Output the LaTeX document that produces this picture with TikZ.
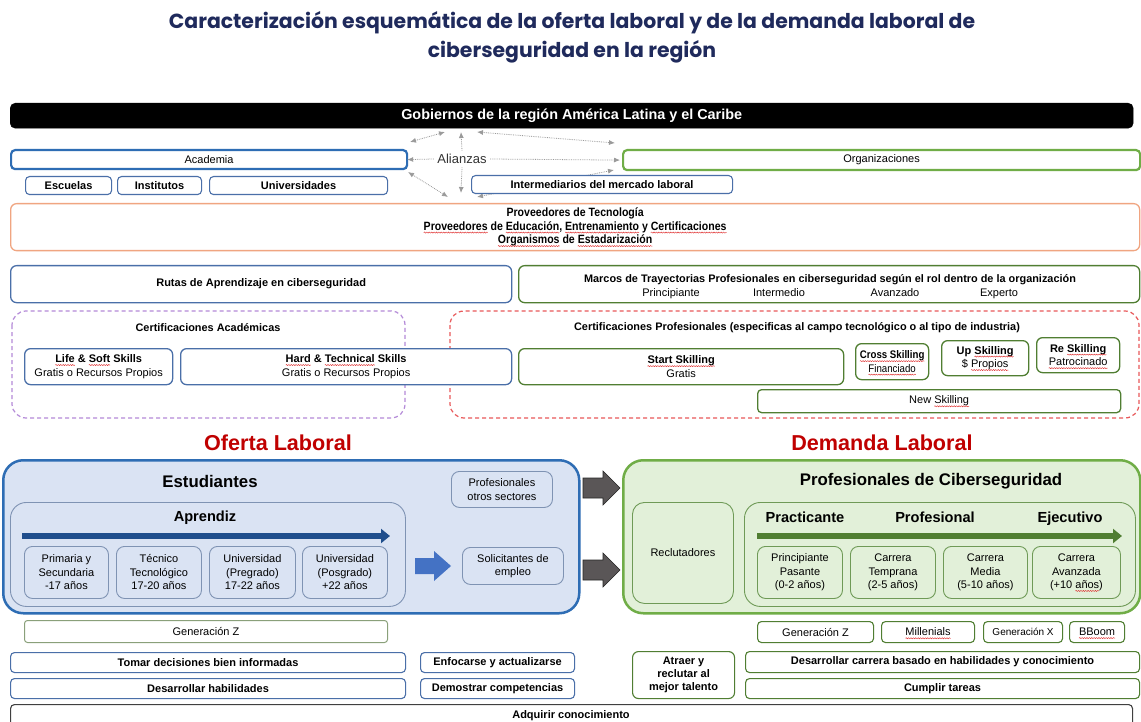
\documentclass[tikz,border=0pt]{standalone}
\usepackage{fontspec}
\setmainfont{Liberation Sans}
\newfontfamily\titlefont{Poppins}
\newfontfamily\narrowfont[FakeStretch=0.88]{Liberation Sans}
\usetikzlibrary{arrows.meta,decorations.pathmorphing}
\definecolor{titleblue}{HTML}{1F2A5C}
\definecolor{bthick}{HTML}{2E6DB4}
\definecolor{bthin}{HTML}{4A6FA8}
\definecolor{gthick}{HTML}{70AD47}
\definecolor{gdark}{HTML}{507E32}
\definecolor{orangeb}{HTML}{F0A581}
\definecolor{purpled}{HTML}{B48AD8}
\definecolor{redd}{HTML}{E8595A}
\definecolor{lblue}{HTML}{DAE3F3}
\definecolor{lgreen}{HTML}{E2F0D9}
\definecolor{ibord}{HTML}{7F93B3}
\definecolor{gbord}{HTML}{6F9A57}
\definecolor{genz}{HTML}{8AA07A}
\definecolor{darrow}{HTML}{1F4E8C}
\definecolor{barrow}{HTML}{4472C4}
\definecolor{garrow}{HTML}{5A5657}
\definecolor{redt}{HTML}{C00000}
\definecolor{alzc}{HTML}{9A9A9A}
\definecolor{squig}{HTML}{E03030}
\newcommand\sq[1]{\tikz[baseline=(sqw.base),sharp corners,line width=0.5pt,solid]{\node[inner sep=0pt,outer sep=0pt,draw=none,fill=none,minimum width=0pt,minimum height=0pt,anchor=base,sharp corners] (sqw) {#1};
  \draw[overlay,squig,sharp corners,line width=0.45pt,decorate,decoration={snake,amplitude=0.55pt,segment length=2.4pt}] ([yshift=-2.3pt]sqw.base west) -- ([yshift=-2.3pt]sqw.base east);}}
\newcommand\bx[7][]{\node[anchor=north west,minimum width={#5-#3},minimum height={#6-#4},inner sep=1pt,align=center,#1] (#2) at (#3,#4) {#7};}
\begin{document}
\begin{tikzpicture}[x=1pt,y=-1pt,
  f10/.style={font=\fontsize{11}{13.5}\selectfont},
  f10b/.style={font=\fontsize{11}{13.5}\selectfont\bfseries},
  f95b/.style={font=\fontsize{10.9}{13}\selectfont\bfseries},
  bluebox/.style={draw=bthin,line width=1.1pt,rounded corners=4pt,fill=white},
  greenbox/.style={draw=gdark,line width=1.1pt,rounded corners=4pt,fill=white},
  thickblue/.style={draw=bthick,line width=2.2pt,rounded corners=4pt,fill=white},
  thickgreen/.style={draw=gthick,line width=2.2pt,rounded corners=4pt,fill=white},
  innerblue/.style={draw=ibord,line width=0.9pt,rounded corners=8pt,fill=lblue},
  innergreen/.style={draw=gbord,line width=0.9pt,rounded corners=8pt,fill=lgreen},
  alzline/.style={draw=alzc,densely dotted,line width=0.8pt},
  alztip/.style={-{Latex[length=6pt,width=5pt]}},
  alzboth/.style={{Latex[length=6pt,width=5pt]}-{Latex[length=6pt,width=5pt]}},
  bigtitle/.style={font=\fontsize{21.6}{24}\selectfont\bfseries,text=redt},
  sect/.style={font=\fontsize{16.8}{19}\selectfont\bfseries},
  sub/.style={font=\fontsize{14.6}{17}\selectfont\bfseries,anchor=base},
  lvl/.style={font=\fontsize{11}{13}\selectfont,anchor=base},
  dashbox/.style={line width=1.2pt,dash pattern=on 4pt off 3pt,rounded corners=14pt}
]
\useasboundingbox[fill=white] (0,0) rectangle (1141,722);
\clip (0,0) rectangle (1141,722);

% title
\node[font={\titlefont\fontsize{20.4}{29}\selectfont\bfseries},text=titleblue,align=center] (title) at (572,37)
  {Caracterización esquemática de la oferta laboral y de la demanda laboral de\\ciberseguridad en la región};

% governments
\bx[fill=black,draw=black,rounded corners=5pt,text=white,font=\fontsize{14.4}{16}\selectfont\bfseries]{gob}{10}{103}{1133}{128}{Gobiernos de la región América Latina y el Caribe}

% alianzas
\node[font=\fontsize{13}{15}\selectfont,text=black!80] (alz) at (462,159) {Alianzas};
\coordinate (gA) at (461,132);
\coordinate (dA) at (461,193);
\coordinate (ul1) at (410,142); \coordinate (ul2) at (445,132);
\coordinate (ur1) at (477,132); \coordinate (ur2) at (615,143);
\coordinate (ll1) at (408,172); \coordinate (ll2) at (448,197);
\coordinate (lr1) at (477,197); \coordinate (lr2) at (614,170);
\draw[alzline,alztip] (alz.north) -- (gA);
\draw[alzline,alztip] (alz.south) -- (dA);
\draw[alzline,alzboth] (ul1) -- (ul2);
\draw[alzline,alzboth] (ur1) -- (ur2);
\draw[alzline,alzboth] (ll1) -- (ll2);
\draw[alzline,alzboth] (lr1) -- (lr2);

\bx[thickblue,f10]{acad}{10}{149}{406}{168}{Academia}
\bx[thickgreen,f10]{org}{622}{149}{1139}{169}{Organizaciones}
\draw[alzline,alztip] (alz.west) -- ([xshift=-1pt]acad.east);
\draw[alzline,alztip] (alz.east) -- ([xshift=-2pt]org.west);

\bx[bluebox,f10b]{esc}{25}{176}{111}{194}{Escuelas}
\bx[bluebox,f10b]{inst}{117}{176}{201}{194}{Institutos}
\bx[bluebox,f10b]{univ}{209}{176}{387}{194}{Universidades}
\bx[bluebox,f10b]{inter}{471}{175}{732}{193}{Intermediarios del mercado laboral}

\bx[draw=orangeb,line width=1.3pt,rounded corners=6pt,fill=white,font={\narrowfont\fontsize{12}{13.5}\selectfont\bfseries}]{prov}{10}{203}{1139}{250}
  {Proveedores de Tecnología\\\sq{Proveedores} de \sq{Educación}, \sq{Entrenamiento} y \sq{Certificaciones}\\\sq{Organismos} de \sq{Estadarización}}

% rutas / marcos
\bx[bluebox,line width=1.3pt,rounded corners=6pt,f10b]{rutas}{10}{265}{511}{302}{Rutas de Aprendizaje en ciberseguridad}
\bx[greenbox,line width=1.3pt,rounded corners=6pt]{marcos}{518}{265}{1139}{302}{}
\node[f95b,anchor=base] (marcosT) at (830,283) {Marcos de Trayectorias Profesionales en ciberseguridad según el rol dentro de la organización};
\node[lvl] (m1) at (671,297) {Principiante};
\node[lvl] (m2) at (779,297) {Intermedio};
\node[lvl] (m3) at (895,297) {Avanzado};
\node[lvl] (m4) at (999,297) {Experto};

% certificaciones
\draw[dashbox,draw=purpled] (12,311) rectangle (405,418);
\draw[dashbox,draw=redd] (450,311) rectangle (1139,418);
\node[f95b] (certA) at (208,328) {Certificaciones Académicas};
\node[f95b] (certP) at (797,328) {Certificaciones Profesionales (especificas al campo tecnológico o al tipo de industria)};
\bx[bluebox,line width=1.3pt,rounded corners=6pt,f10]{life}{24}{348}{172}{384}{\textbf{\sq{Life} \& \sq{Soft} Skills}\\Gratis o Recursos Propios}
\bx[bluebox,line width=1.3pt,rounded corners=6pt,f10]{hard}{180}{348}{511}{384}{\textbf{\sq{Hard} \& \sq{Technical} Skills}\\Gratis o Recursos Propios}
\bx[greenbox,line width=1.3pt,rounded corners=6pt,f10]{start}{518}{348}{843}{384}{\textbf{\sq{Start Skilling}}\\Gratis}
\bx[greenbox,line width=1.3pt,rounded corners=6pt,font={\narrowfont\fontsize{11}{13.5}\selectfont}]{cross}{855}{343}{928}{379}{\textbf{\sq{Cross Skilling}}\\\sq{Financiado}}
\bx[greenbox,line width=1.3pt,rounded corners=6pt,f10]{up}{941}{340}{1028}{375}{\textbf{Up \sq{Skilling}}\\\$ \sq{Propios}}
\bx[greenbox,line width=1.3pt,rounded corners=6pt,f10]{re}{1036}{337}{1119}{372}{\textbf{Re \sq{Skilling}}\\\sq{Patrocinado}}
\bx[greenbox,line width=1.3pt,rounded corners=4pt,f10]{new}{757}{389}{1120}{412}{New \sq{Skilling}}

% oferta / demanda titles
\node[bigtitle] (ofT) at (278,443) {Oferta Laboral};
\node[bigtitle] (deT) at (882,443) {Demanda Laboral};

% oferta
\bx[draw=bthick,line width=2.5pt,rounded corners=20pt,fill=lblue]{oferta}{2}{459}{578}{612}{}
\node[sect] (estT) at (210,481) {Estudiantes};
\bx[innerblue,f10]{prof}{451}{471}{552}{507}{Profesionales\\otros sectores}
\bx[innerblue,rounded corners=16pt]{apr}{10}{502}{405}{606}{}
\node[sub] (aprT) at (205,521) {Aprendiz};
\coordinate (aa1) at (22,536); \coordinate (aa2) at (390,536);
\draw[darrow,line width=6pt,-{Triangle[length=9pt,width=14pt]}] (aa1) -- (aa2);
\bx[innerblue,f10]{p1}{24}{546}{108}{598}{Primaria y\\Secundaria\\-17 años}
\bx[innerblue,f10]{p2}{116}{546}{201}{598}{Técnico\\Tecnológico\\17-20 años}
\bx[innerblue,f10]{p3}{209}{546}{295}{598}{Universidad\\(Pregrado)\\17-22 años}
\bx[innerblue,f10]{p4}{302}{546}{387}{598}{Universidad\\(Posgrado)\\+22 años}
\fill[barrow] (415,558) -- (434,558) -- (434,551) -- (451,566) -- (434,581) -- (434,574) -- (415,574) -- cycle;
\bx[innerblue,f10]{solic}{462}{547}{563}{584}{Solicitantes de\\empleo}

% gray arrows
\filldraw[fill=garrow,draw=black!85,line width=0.6pt] (583,478) -- (603,478) -- (603,471) -- (620,488) -- (603,505) -- (603,498) -- (583,498) -- cycle;
\filldraw[fill=garrow,draw=black!85,line width=0.6pt] (583,560) -- (603,560) -- (603,553) -- (620,570) -- (603,587) -- (603,580) -- (583,580) -- cycle;

% demanda
\bx[draw=gthick,line width=2.5pt,rounded corners=20pt,fill=lgreen]{demanda}{622}{459}{1139}{612}{}
\node[sect] (profT) at (931,481) {Profesionales de Ciberseguridad};
\bx[innergreen,rounded corners=12pt,f10]{reclut}{632}{502}{733}{603}{Reclutadores}
\bx[innergreen,rounded corners=16pt]{carr}{744}{502}{1135}{606}{}
\node[sub] (pracT) at (805,522) {Practicante};
\node[sub] (profeT) at (935,522) {Profesional};
\node[sub] (ejecT) at (1070,522) {Ejecutivo};
\coordinate (ga1) at (757,536); \coordinate (ga2) at (1122,536);
\draw[gdark,line width=6pt,-{Triangle[length=9pt,width=14pt]}] (ga1) -- (ga2);
\bx[innergreen,f10]{d1}{757}{546}{842}{598}{Principiante\\Pasante\\(0-2 años)}
\bx[innergreen,f10]{d2}{850}{546}{935}{598}{Carrera\\Temprana\\(2-5 años)}
\bx[innergreen,f10]{d3}{943}{546}{1027}{598}{Carrera\\Media\\(5-10 años)}
\bx[innergreen,f10]{d4}{1032}{546}{1120}{598}{Carrera\\Avanzada\\(+10 \sq{años})}

% generations
\bx[draw=genz,line width=1pt,rounded corners=3pt,fill=white,f10]{gz1}{24}{620}{387}{642}{Generación Z}
\bx[greenbox,f10]{gz2}{757}{621}{873}{642}{Generación Z}
\bx[greenbox,f10]{mil}{881}{621}{974}{642}{\sq{Millenials}}
\bx[greenbox,font=\fontsize{10}{12}\selectfont]{gx}{983}{621}{1062}{642}{Generación X}
\bx[greenbox,f10]{bb}{1069}{621}{1124}{642}{\sq{BBoom}}

% bottom rows
\bx[bluebox,f10b]{tomar}{10}{652}{405}{672}{Tomar decisiones bien informadas}
\bx[bluebox,f10b]{enf}{420}{652}{574}{672}{Enfocarse y actualizarse}
\bx[bluebox,f10b]{desh}{10}{678}{405}{698}{Desarrollar habilidades}
\bx[bluebox,f10b]{dem}{420}{678}{574}{698}{Demostrar competencias}
\bx[greenbox,rounded corners=6pt,font=\fontsize{11}{13}\selectfont\bfseries]{atraer}{632}{651}{734}{698}{Atraer y\\reclutar al\\mejor talento}
\bx[greenbox,f10b]{desc}{745}{651}{1139}{672}{Desarrollar carrera basado en habilidades y conocimiento}
\bx[greenbox,f10b]{cumplir}{745}{678}{1139}{698}{Cumplir tareas}
\bx[draw=black!75,line width=1.1pt,rounded corners=4pt,fill=white]{adq}{10}{704}{1132}{732}{}
\node[f10b] (adqT) at (571,716) {Adquirir conocimiento};
\end{tikzpicture}
\end{document}
